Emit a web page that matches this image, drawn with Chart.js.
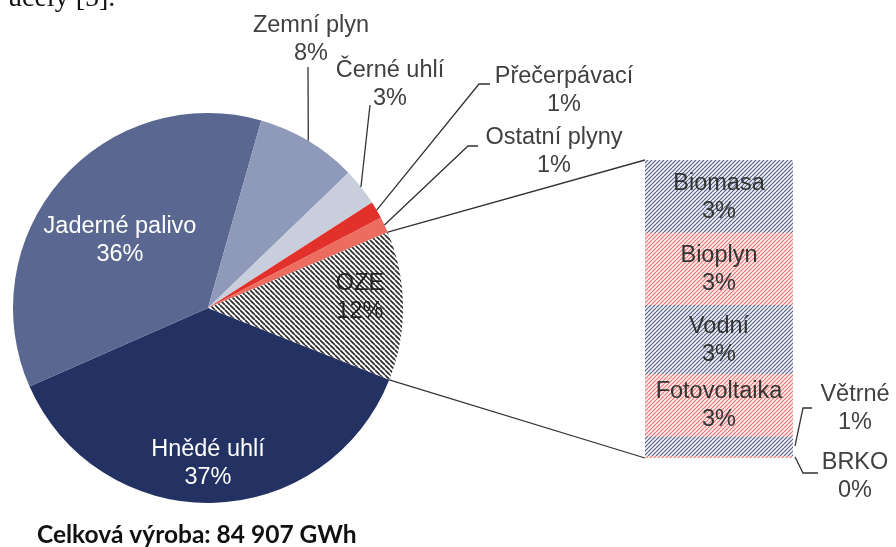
<!DOCTYPE html>
<html>
<head>
<meta charset="utf-8">
<script src="https://cdn.jsdelivr.net/npm/chart.js@4.4.1/dist/chart.umd.min.js"></script>
<style>
  html, body { margin: 0; padding: 0; background: #ffffff; }
  #wrap { position: relative; width: 896px; height: 547px; overflow: hidden; }
  #wrap canvas { position: absolute; left: 0; top: 0; }
</style>
</head>
<body>
<div id="wrap">
  <canvas id="pie" width="896" height="547"></canvas>
  <canvas id="bar" width="896" height="547"></canvas>
</div>
<script>
// ---- data ----
const pieLabels = ['Hnědé uhlí', 'Jaderné palivo', 'Zemní plyn', 'Černé uhlí', 'Přečerpávací', 'Ostatní plyny', 'OZE'];
const pieValues = [37.4, 36.0, 8.4, 3.1, 1.45, 1.3, 12.35];
const ozeLabels = ['Biomasa', 'Bioplyn', 'Vodní', 'Fotovoltaika', 'Větrné', 'BRKO'];
const ozeValues = [3.0, 3.0, 2.85, 2.6, 0.8, 0.1];
const totalText = 'Celková výroba: 84 907 GWh';
const headText = 'účely [5].';

// ---- styles ----
const LABEL_FONT = '23.5px "Liberation Sans", Arial, sans-serif';
const LINE_GAP = 28;
const pieTotal = pieValues.reduce((a, b) => a + b, 0);
const pct = v => Math.round(v / pieTotal * 100) + '%';

function hatch(bg, fg, dir, size, lw) {
  const c = document.createElement('canvas');
  c.width = size; c.height = size;
  const g = c.getContext('2d');
  g.fillStyle = bg; g.fillRect(0, 0, size, size);
  g.strokeStyle = fg; g.lineWidth = lw;
  g.beginPath();
  for (const o of [-size, 0, size]) {
    if (dir === '/') { g.moveTo(o, size); g.lineTo(o + size, 0); }
    else { g.moveTo(o, 0); g.lineTo(o + size, size); }
  }
  g.stroke();
  return g.createPattern(c, 'repeat');
}
const ozeHatch = hatch('#ffffff', '#2e2e2e', '\\', 5, 1.7);
const blueHatch = hatch('#eef0f5', '#535e86', '/', 4, 1.1);
const redHatch = hatch('#fce9e9', '#e67674', '/', 4, 1.1);

const pieColors = ['#233263', '#5a6891', '#8f9abb', '#c9cedd', '#e2302a', '#ec6c60', ozeHatch];
const barColors = [blueHatch, redHatch, blueHatch, redHatch, blueHatch, redHatch];

// label placement (layout only)
const insideLabels = {
  0: { x: 208, y: 450, color: '#ffffff' },
  1: { x: 120, y: 227, color: '#ffffff' },
  6: { x: 360, y: 284, color: '#222222' }
};
const outsideLabels = {
  2: { x: 311, y: 26, path: [[308, 67]] },
  3: { x: 390, y: 71, path: [[370, 105]] },
  4: { x: 564, y: 77, path: [[479, 84], [490, 84]] },
  5: { x: 554, y: 138, path: [[468, 146], [478, 146]] }
};

function twoLines(ctx, a, b, x, y, color) {
  ctx.fillStyle = color;
  ctx.font = LABEL_FONT;
  ctx.textAlign = 'center';
  ctx.textBaseline = 'middle';
  ctx.fillText(a, x, y);
  ctx.fillText(b, x, y + LINE_GAP);
}

const piePlugin = {
  id: 'pieDeco',
  afterDraw(chart) {
    const ctx = chart.ctx;
    const arcs = chart.getDatasetMeta(0).data;
    ctx.save();
    for (const k in insideLabels) {
      const L = insideLabels[k];
      twoLines(ctx, pieLabels[k], pct(pieValues[k]), L.x, L.y, L.color);
    }
    ctx.strokeStyle = '#333333';
    ctx.lineWidth = 1.3;
    for (const k in outsideLabels) {
      const L = outsideLabels[k];
      const a = arcs[k];
      const mid = (a.startAngle + a.endAngle) / 2;
      ctx.beginPath();
      ctx.moveTo(a.x + Math.cos(mid) * a.outerRadius, a.y + Math.sin(mid) * a.outerRadius);
      for (const p of L.path) ctx.lineTo(p[0], p[1]);
      ctx.stroke();
      twoLines(ctx, pieLabels[k], pct(pieValues[k]), L.x, L.y, '#404040');
    }
    ctx.fillStyle = '#111111';
    ctx.font = 'bold 24.5px Lato, "Open Sans", sans-serif';
    ctx.textAlign = 'left';
    ctx.textBaseline = 'alphabetic';
    ctx.fillText(totalText, 37, 543);
    ctx.font = '28px "Liberation Serif", "Times New Roman", serif';
    ctx.fillStyle = '#111111';
    ctx.fillText(headText, 8, 6);
    ctx.restore();
  }
};

const pieChart = new Chart(document.getElementById('pie'), {
  type: 'pie',
  data: {
    labels: pieLabels,
    datasets: [{ data: pieValues, backgroundColor: pieColors, borderWidth: 0 }]
  },
  options: {
    responsive: false,
    animation: false,
    rotation: 111.6,
    layout: { padding: { left: 13, right: 493, top: 113, bottom: 44 } },
    plugins: { legend: { display: false }, tooltip: { enabled: false } }
  },
  plugins: [piePlugin]
});

const barPlugin = {
  id: 'barDeco',
  afterDraw(chart) {
    const ctx = chart.ctx;
    const area = chart.chartArea;
    ctx.save();
    const oze = pieChart.getDatasetMeta(0).data[6];
    ctx.strokeStyle = '#333333';
    ctx.lineWidth = 1.3;
    ctx.beginPath();
    ctx.moveTo(oze.x + Math.cos(oze.startAngle) * oze.outerRadius, oze.y + Math.sin(oze.startAngle) * oze.outerRadius);
    ctx.lineTo(area.left, area.top);
    ctx.moveTo(oze.x + Math.cos(oze.endAngle) * oze.outerRadius, oze.y + Math.sin(oze.endAngle) * oze.outerRadius);
    ctx.lineTo(area.left, area.bottom);
    ctx.stroke();
    chart.data.datasets.forEach((ds, i) => {
      const el = chart.getDatasetMeta(i).data[0];
      const cy = (el.y + el.base) / 2;
      if (i < 4) {
        twoLines(ctx, ozeLabels[i], pct(ozeValues[i]), el.x, cy - 13, '#333333');
      }
    });
    const v = chart.getDatasetMeta(4).data[0];
    const b = chart.getDatasetMeta(5).data[0];
    const vy = (v.y + v.base) / 2, by = (b.y + b.base) / 2;
    ctx.strokeStyle = '#333333';
    ctx.lineWidth = 1.3;
    ctx.beginPath();
    ctx.moveTo(area.right + 2, vy); ctx.lineTo(803, 408); ctx.lineTo(812, 408);
    ctx.moveTo(area.right + 2, by); ctx.lineTo(803, 473); ctx.lineTo(818, 473);
    ctx.stroke();
    twoLines(ctx, ozeLabels[4], pct(ozeValues[4]), 855, 395, '#404040');
    twoLines(ctx, ozeLabels[5], pct(ozeValues[5]), 855, 463, '#404040');
    ctx.restore();
  }
};

new Chart(document.getElementById('bar'), {
  type: 'bar',
  data: {
    labels: ['OZE'],
    datasets: ozeLabels.map((l, i) => ({
      label: l,
      data: [ozeValues[i]],
      backgroundColor: barColors[i],
      borderWidth: 0,
      barPercentage: 1,
      categoryPercentage: 1
    }))
  },
  options: {
    responsive: false,
    animation: false,
    layout: { padding: { left: 645, right: 103, top: 160, bottom: 89 } },
    scales: {
      x: { stacked: true, display: false },
      y: { stacked: true, display: false, min: 0, max: 12.35, reverse: true }
    },
    plugins: { legend: { display: false }, tooltip: { enabled: false } }
  },
  plugins: [barPlugin]
});
</script>
</body>
</html>
